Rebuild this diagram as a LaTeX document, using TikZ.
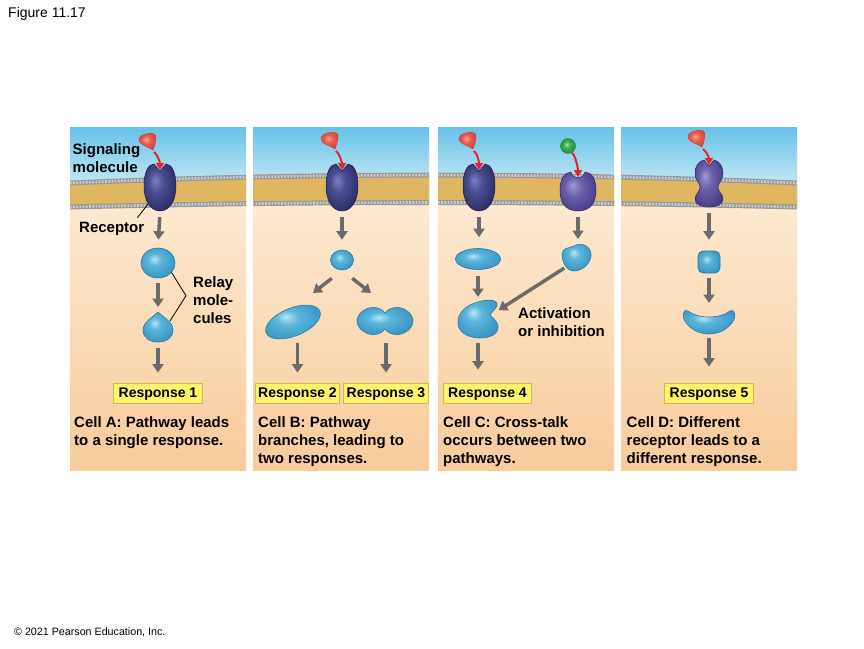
\documentclass[tikz,border=0pt]{standalone}
\usepackage{fontspec}
\setmainfont{Liberation Sans}
\usetikzlibrary{arrows.meta,shapes.geometric}

\definecolor{skytop}{HTML}{66C1E9}
\definecolor{skylow}{HTML}{D8EFF7}
\definecolor{cytotop}{HTML}{FDEBD3}
\definecolor{cytolow}{HTML}{F8CB9B}
\definecolor{lipid}{HTML}{E0B660}
\definecolor{headgray}{HTML}{9A9A9A}
\definecolor{headlight}{HTML}{D0D0D0}
\definecolor{arrowgray}{HTML}{6B6B6B}
\definecolor{bindred}{HTML}{E2262B}
\definecolor{respfill}{HTML}{FFF36A}
\definecolor{respedge}{HTML}{CDB84A}
\definecolor{relayhi}{HTML}{B8E4F4}
\definecolor{relaymid}{HTML}{5BB5DB}
\definecolor{relaylow}{HTML}{3A97C4}
\definecolor{relayedge}{HTML}{2A7AA6}
\definecolor{rechi}{HTML}{7E80C2}
\definecolor{recmid}{HTML}{4A4C92}
\definecolor{reclow}{HTML}{2C2D64}
\definecolor{recedge}{HTML}{1E1F4C}
\definecolor{violhi}{HTML}{A39AD6}
\definecolor{violmid}{HTML}{6A60AC}
\definecolor{viollow}{HTML}{473D89}
\definecolor{violedge}{HTML}{33296A}
\definecolor{redhi}{HTML}{F6A595}
\definecolor{redmid}{HTML}{E95C50}
\definecolor{redlow}{HTML}{CC4036}
\definecolor{greenhi}{HTML}{A8E8B0}
\definecolor{greenmid}{HTML}{3DB65A}
\definecolor{greenlow}{HTML}{23873A}

\pgfdeclareradialshading{relayball}{\pgfpoint{-6bp}{7bp}}{color(0bp)=(relayhi); color(10bp)=(relaymid); color(28bp)=(relaylow); color(50bp)=(relaylow)}
\pgfdeclareradialshading{recball}{\pgfpoint{-8bp}{8bp}}{color(0bp)=(rechi); color(12bp)=(recmid); color(30bp)=(reclow); color(50bp)=(reclow)}
\pgfdeclareradialshading{violball}{\pgfpoint{-8bp}{8bp}}{color(0bp)=(violhi); color(12bp)=(violmid); color(30bp)=(viollow); color(50bp)=(viollow)}
\pgfdeclareradialshading{redball}{\pgfpoint{-3bp}{5bp}}{color(0bp)=(redhi); color(12bp)=(redmid); color(30bp)=(redlow); color(50bp)=(redlow)}
\pgfdeclareradialshading{greenshade}{\pgfpoint{-5bp}{6bp}}{color(0bp)=(greenhi); color(10bp)=(greenmid); color(28bp)=(greenlow); color(50bp)=(greenlow)}

\tikzset{
  note/.style={anchor=north west, align=left, inner sep=0pt, font=\fontsize{15}{18}\selectfont\bfseries},
  resp/.style={draw=respedge, fill=respfill, line width=.8pt, inner xsep=5pt, inner ysep=0pt,
    minimum height=20pt, text height=10pt, text depth=1pt, font=\fontsize{14}{16}\selectfont\bfseries},
  relay/.style={ellipse, shade, shading=relayball, draw=relayedge, line width=.6pt, inner sep=0pt},
  relayshade/.style={shading=relayball, draw=relayedge, line width=.6pt},
  greenball/.style={circle, shade, shading=greenshade, draw=greenlow, line width=.4pt, minimum size=15pt, inner sep=0pt},
  pointer/.style={draw=black, line width=.8pt},
  relayarrow/.style={draw=arrowgray, line width=3.5pt, -{Triangle[width=11pt,length=8.5pt]}},
  bindarrow/.style={draw=bindred, line width=2pt, -{Triangle[width=8pt,length=7pt]}},
  heads/.style={draw=headgray, line width=5pt,
    postaction={draw=headlight, line width=2.6pt, dash pattern=on 1.6pt off 1.6pt}},
  receptor/.pic={
    \shadedraw[shading=recball, draw=recedge, line width=.5pt]
      (0,-17) -- (-6,-24) .. controls (-12,-24) and (-16,-15) .. (-16,-2)
      .. controls (-16,12) and (-10,23) .. (0,23)
      .. controls (10,23) and (16,12) .. (16,-2)
      .. controls (16,-15) and (12,-24) .. (6,-24) -- cycle;
    \coordinate (-top) at (0,-18);
    \coordinate (-bot) at (0,23);
    \coordinate (-foot) at (-12,16);
  },
  bulky/.pic={
    \shadedraw[shading=violball, draw=violedge, line width=.5pt]
      (-7,-20) .. controls (-6,-16) and (-3,-14) .. (0,-14)
      .. controls (3,-14) and (6,-16) .. (7,-20)
      .. controls (14,-20) and (18,-12) .. (18,-2)
      .. controls (18,10) and (13,19) .. (0,19)
      .. controls (-13,19) and (-18,10) .. (-18,-2)
      .. controls (-18,-12) and (-14,-20) .. cycle;
    \coordinate (-top) at (0,-15);
    \coordinate (-bot) at (0,19);
  },
  hourglass/.pic={
    \shadedraw[shading=violball, draw=violedge, line width=.5pt]
      (0,-18) -- (-5,-24) .. controls (-10,-23) and (-14,-18) .. (-14,-11)
      .. controls (-14,-4) and (-9,-1) .. (-9,3)
      .. controls (-9,8) and (-14,10) .. (-14,15)
      .. controls (-14,21) and (-7,23) .. (0,23)
      .. controls (7,23) and (14,21) .. (14,15)
      .. controls (14,10) and (9,8) .. (9,3)
      .. controls (9,-1) and (14,-4) .. (14,-11)
      .. controls (14,-18) and (10,-23) .. (5,-24) -- cycle;
    \coordinate (-top) at (0,-19);
    \coordinate (-bot) at (0,23);
  },
  ligand/.pic={
    \shadedraw[shading=redball, draw=redlow, line width=.4pt]
      (5,8) .. controls (1,5) and (-8,3) .. (-9,-1)
      .. controls (-10,-5) and (-6,-7.5) .. (0,-8.5)
      .. controls (5,-9.5) and (8.5,-8) .. (8,-3.5)
      .. controls (7.5,1) and (6.5,4) .. cycle;
    \coordinate (-tip) at (6,10);
  },
  drop/.pic={
    \shadedraw[relayshade]
      (0,-15) .. controls (5,-10) and (15,-5) .. (15,3)
      .. controls (15,11) and (8,15) .. (0,15)
      .. controls (-8,15) and (-15,11) .. (-15,3)
      .. controls (-15,-5) and (-5,-10) .. cycle;
    \coordinate (-top) at (0,-15);
    \coordinate (-bot) at (0,15);
    \coordinate (-side) at (12,-6);
  },
  twin/.pic={
    \shadedraw[relayshade]
      (0,-8) .. controls (3,-12) and (7,-13.5) .. (12,-13.5)
      .. controls (20,-13.5) and (28,-7) .. (28,0)
      .. controls (28,7) and (20,13.5) .. (12,13.5)
      .. controls (7,13.5) and (3,12) .. (0,8)
      .. controls (-3,12) and (-7,13.5) .. (-12,13.5)
      .. controls (-20,13.5) and (-28,7) .. (-28,0)
      .. controls (-28,-7) and (-20,-13.5) .. (-12,-13.5)
      .. controls (-7,-13.5) and (-3,-12) .. cycle;
    \coordinate (-bot) at (0,13.5);
  },
  lump/.pic={
    \shadedraw[relayshade]
      (-2,-11) .. controls (4,-15) and (14,-12) .. (15,-3)
      .. controls (16,5) and (7,14) .. (-2,14)
      .. controls (-10,14) and (-14,4) .. (-14,-3)
      .. controls (-14,-9) and (-7,-9) .. cycle;
    \coordinate (-top) at (0,-12);
    \coordinate (-low) at (-10,10);
  },
  notched/.pic={
    \shadedraw[relayshade]
      (12,-4) .. controls (14,-8) and (21,-12) .. (19,-16)
      .. controls (16,-21) and (2,-19) .. (-8,-14)
      .. controls (-17,-9) and (-21,-2) .. (-20,5)
      .. controls (-19,14) and (-9,19) .. (2,19)
      .. controls (12,19) and (21,15) .. (20,7)
      .. controls (19,1) and (14,-1) .. cycle;
    \coordinate (-top) at (0,-17);
    \coordinate (-bot) at (0,19);
    \coordinate (-notch) at (13,-4);
  },
  crescent/.pic={
    \shadedraw[relayshade]
      (-21,-10) .. controls (-11,-2) and (11,-2) .. (21,-10)
      .. controls (24,-12) and (27,-8) .. (25.5,-3)
      .. controls (23,4) and (14,13) .. (0,13)
      .. controls (-14,13) and (-23,4) .. (-25.5,-3)
      .. controls (-27,-8) and (-24,-12) .. cycle;
    \coordinate (-top) at (0,-11);
    \coordinate (-bot) at (0,13);
  }
}

\begin{document}
\begin{tikzpicture}[x=1pt,y=-1pt]
  \useasboundingbox (0,0) rectangle (864,648);
  \fill[white] (0,0) rectangle (864,648);

  % four cell panels
  \foreach \px in {70,253,438,621}{
    \begin{scope}
      \clip (\px,127) rectangle ++(176,343);
      \shade[top color=skytop, bottom color=skylow] (70,127) rectangle (797,196);
      \shade[top color=cytotop, bottom color=cytolow] (70,190) rectangle (797,470);
      \fill[lipid] (70,183) .. controls (312,172.5) and (555,172.5) .. (797,183)
        -- (797,207) .. controls (555,201) and (312,201) .. (70,207) -- cycle;
      \draw[heads] (70,183) .. controls (312,172.5) and (555,172.5) .. (797,183);
      \draw[heads] (70,207) .. controls (312,201) and (555,201) .. (797,207);
    \end{scope}
  }

  % receptors and signals
  \pic (ra) at (160,188) {receptor};
  \pic (rb) at (342,188) {receptor};
  \pic (rc) at (479,188) {receptor};
  \pic (rv) at (578,192) {bulky};
  \pic (rd) at (709,184) {hourglass};
  \pic (la) at (148,142) {ligand};
  \pic (lb) at (330,141) {ligand};
  \pic (lc) at (468,141) {ligand};
  \pic (ld) at (697,139) {ligand};
  \node[greenball] (lg) at (568,146) {};
  \draw[bindarrow] (la-tip) .. controls +(4,3) and +(0,-7) .. (ra-top);
  \draw[bindarrow] (lb-tip) .. controls +(4,3) and +(0,-7) .. (rb-top);
  \draw[bindarrow] (lc-tip) .. controls +(4,3) and +(0,-7) .. (rc-top);
  \draw[bindarrow] (ld-tip) .. controls +(4,3) and +(0,-7) .. (rd-top);
  \draw[bindarrow] (lg.-60) .. controls +(4,3) and +(0,-8) .. (rv-top);

  % relay molecules
  \node[relay, minimum width=34pt, minimum height=30pt] (a1) at (158,263) {};
  \pic (a2) at (158,327) {drop};
  \node[relay, minimum width=23pt, minimum height=20pt] (b1) at (342,260) {};
  \node[relay, minimum width=58pt, minimum height=28pt, rotate=22] (b2) at (293,322) {};
  \pic (b3) at (385,321) {twin};
  \node[relay, minimum width=45pt, minimum height=21pt] (c1) at (478,259) {};
  \pic (c2) at (576,257) {lump};
  \pic (c3) at (478,319) {notched};
  \node[relay, rectangle, rounded corners=5pt, minimum size=22pt] (d1) at (709,262) {};
  \pic (d2) at (709,321) {crescent};

  % responses
  \node[resp] (r1) at (158,393) {Response 1};
  \node[resp, inner xsep=3pt] (r2) at (297.5,393) {Response 2};
  \node[resp, inner xsep=3pt] (r3) at (386,393) {Response 3};
  \node[resp] (r4) at (487.5,393) {Response 4};
  \node[resp] (r5) at (709,393) {Response 5};

  % pathways
  \draw[relayarrow, shorten <=6pt, shorten >=8pt] (ra-bot) -- (a1.north);
  \draw[relayarrow, shorten <=5pt, shorten >=5pt] (a1.south) -- (a2-top);
  \draw[relayarrow, shorten <=6pt, shorten >=10pt] (a2-bot) -- (r1.north);
  \draw[relayarrow, shorten <=6pt, shorten >=10pt] (rb-bot) -- (b1.north);
  \coordinate (bl) at (313,293);
  \coordinate (br) at (371,293);
  \draw[relayarrow, shorten <=13pt] (b1.south) -- (bl);
  \draw[relayarrow, shorten <=13pt] (b1.south) -- (br);
  \draw[relayarrow, shorten <=21pt, shorten >=10pt] (r2.north |- b2) -- (r2.north);
  \draw[relayarrow, shorten <=8pt, shorten >=10pt] (r3.north |- b3-bot) -- (r3.north);
  \draw[relayarrow, shorten <=6pt, shorten >=11pt] (rc-bot) -- (rc-bot |- c1.north);
  \draw[relayarrow, shorten <=6pt, shorten >=6pt] (rv-bot) -- (rv-bot |- c2-top);
  \draw[relayarrow, shorten <=6pt, shorten >=5pt] (c1.south) -- (c3-top);
  \draw[relayarrow, shorten <=2pt, shorten >=9pt] (c2-low) -- (c3-notch);
  \draw[relayarrow, shorten <=5pt, shorten >=13pt] (c3-bot) -- (c3-bot |- r4.north);
  \draw[relayarrow, shorten <=6pt, shorten >=11pt] (rd-bot) -- (d1.north);
  \draw[relayarrow, shorten <=5pt, shorten >=7pt] (d1.south) -- (d2-top);
  \draw[relayarrow, shorten <=4pt, shorten >=16pt] (d2-bot) -- (r5.north);

  % labels
  \node[note] (siglabel) at (72.5,143) {Signaling\\molecule};
  \node[note] (reclabel) at (79,221.7) {Receptor};
  \draw[pointer] (ra-foot) -- ([xshift=-7pt,yshift=4pt]reclabel.north east);
  \node[note] (relaylabel) at (193,276) {Relay\\mole-\\cules};
  \coordinate (brk) at ([xshift=-7pt,yshift=4pt]relaylabel.west);
  \draw[pointer] (a1.-35) -- (brk) -- (a2-side);
  \node[note] (actlabel) at (518,307.3) {Activation\\or inhibition};

  \node[note] (capa) at (74,416.7) {Cell A: Pathway leads\\to a single response.};
  \node[note] (capb) at (258,416.7) {Cell B: Pathway\\branches, leading to\\two responses.};
  \node[note] (capc) at (443,416.7) {Cell C: Cross-talk\\occurs between two\\pathways.};
  \node[note] (capd) at (626.5,416.7) {Cell D: Different\\receptor leads to a\\different response.};

  \node[anchor=base west, inner sep=0pt, font=\fontsize{14}{16}\selectfont] (fig) at (8,17.3) {Figure 11.17};
  \node[anchor=base west, inner sep=0pt, font=\fontsize{10.7}{12}\selectfont] (copy) at (14,635) {© 2021 Pearson Education, Inc.};
\end{tikzpicture}
\end{document}
